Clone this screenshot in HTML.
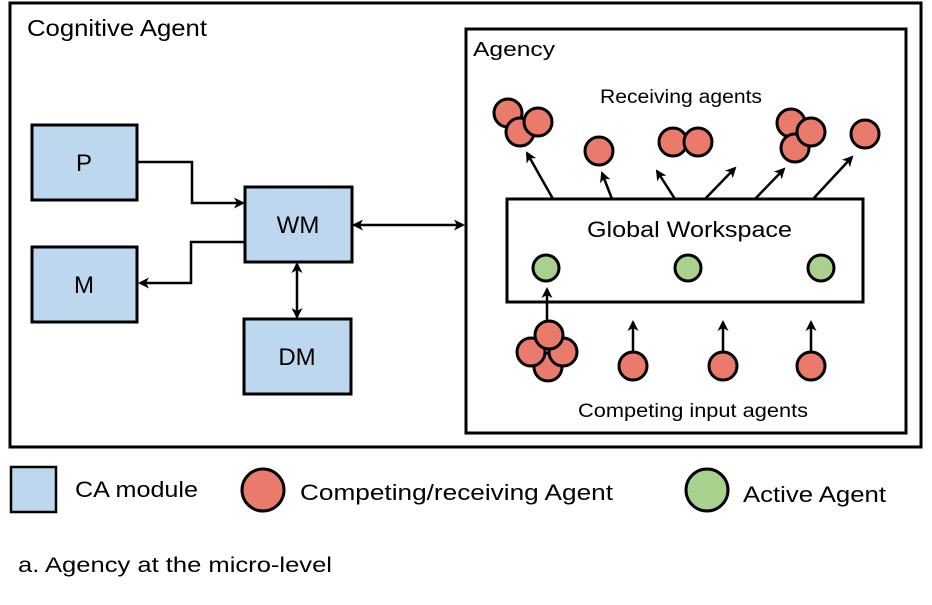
<!DOCTYPE html>
<html><head><style>
body{margin:0;background:#fff;}
svg text{font-family:"Liberation Sans",sans-serif;fill:#000;}
</style></head><body>
<svg width="932" height="600" viewBox="0 0 932 600" xmlns="http://www.w3.org/2000/svg">
<defs>
<marker id="a" markerWidth="11" markerHeight="11" refX="9" refY="5.5" orient="auto-start-reverse" markerUnits="userSpaceOnUse"><path d="M0,0 L11,5.5 L0,11 L3,5.5 Z" fill="#000"/></marker>
</defs>
<rect x="10" y="3" width="911" height="444" fill="none" stroke="#000" stroke-width="3"/>
<text x="27" y="36" font-size="23" textLength="180" lengthAdjust="spacingAndGlyphs">Cognitive Agent</text>
<rect x="466" y="29" width="440" height="404" fill="none" stroke="#000" stroke-width="3"/>
<text x="473" y="56" font-size="20" textLength="82" lengthAdjust="spacingAndGlyphs">Agency</text>
<g fill="#bdd7ee" stroke="#000" stroke-width="3">
<rect x="32" y="125" width="105" height="75"/>
<rect x="32" y="247" width="105" height="75"/>
<rect x="245" y="187" width="107" height="75"/>
<rect x="244" y="319" width="107" height="75"/>
</g>
<g font-size="24" text-anchor="middle">
<text x="84" y="171">P</text>
<text x="84" y="293">M</text>
<text x="298" y="233">WM</text>
<text x="297" y="365">DM</text>
</g>
<g fill="none" stroke="#000" stroke-width="2.5">
<polyline points="137,162 192,162 192,203 243,203" marker-end="url(#a)"/>
<polyline points="245,242 191,242 191,283 140,283" marker-end="url(#a)"/>
<line x1="297" y1="264" x2="297" y2="317" marker-start="url(#a)" marker-end="url(#a)"/>
<line x1="354" y1="225" x2="463" y2="225" marker-start="url(#a)" marker-end="url(#a)"/>
</g>
<rect x="507" y="199" width="356" height="103" fill="none" stroke="#000" stroke-width="3"/>
<text x="587" y="237" font-size="22" textLength="205" lengthAdjust="spacingAndGlyphs">Global Workspace</text>
<text x="600" y="103" font-size="19" textLength="162" lengthAdjust="spacingAndGlyphs">Receiving agents</text>
<text x="578" y="417" font-size="19" textLength="230" lengthAdjust="spacingAndGlyphs">Competing input agents</text>
<g fill="none" stroke="#000" stroke-width="2.5">
<line x1="553" y1="199" x2="527" y2="153" marker-end="url(#a)"/>
<line x1="612" y1="199" x2="602" y2="173" marker-end="url(#a)"/>
<line x1="675" y1="199" x2="657" y2="171" marker-end="url(#a)"/>
<line x1="705" y1="199" x2="735" y2="168" marker-end="url(#a)"/>
<line x1="755" y1="199" x2="784" y2="169" marker-end="url(#a)"/>
<line x1="813" y1="199" x2="852" y2="157" marker-end="url(#a)"/>
<line x1="547" y1="322" x2="547" y2="289" marker-end="url(#a)"/>
<line x1="633" y1="352" x2="633" y2="322" marker-end="url(#a)"/>
<line x1="723" y1="352" x2="723" y2="322" marker-end="url(#a)"/>
<line x1="811" y1="352" x2="811" y2="322" marker-end="url(#a)"/>
</g>
<g fill="#ea7b6c" stroke="#000" stroke-width="3">
<circle cx="508" cy="113" r="14"/>
<circle cx="520" cy="132" r="14"/>
<circle cx="538" cy="122" r="14"/>
<circle cx="599" cy="151" r="14"/>
<circle cx="673" cy="142" r="14"/>
<circle cx="698" cy="142" r="14"/>
<circle cx="791" cy="123" r="14"/>
<circle cx="795" cy="148" r="14"/>
<circle cx="811" cy="132" r="14"/>
<circle cx="865" cy="134" r="14"/>
<circle cx="548" cy="367" r="14"/>
<circle cx="531" cy="352" r="14"/>
<circle cx="563" cy="352" r="14"/>
<circle cx="549" cy="335" r="14"/>
<circle cx="633" cy="366" r="14"/>
<circle cx="723" cy="366" r="14"/>
<circle cx="811" cy="366" r="14"/>
</g>
<g fill="#a9d18e" stroke="#000" stroke-width="3">
<circle cx="546" cy="268" r="13"/>
<circle cx="688" cy="268" r="13"/>
<circle cx="821" cy="268" r="13"/>
</g>
<rect x="11" y="467" width="45" height="45" fill="#bdd7ee" stroke="#000" stroke-width="2.5"/>
<text x="75" y="497" font-size="22" textLength="123" lengthAdjust="spacingAndGlyphs">CA module</text>
<circle cx="263" cy="490" r="21" fill="#ea7b6c" stroke="#000" stroke-width="3"/>
<text x="300" y="500" font-size="22" textLength="313" lengthAdjust="spacingAndGlyphs">Competing/receiving Agent</text>
<circle cx="707" cy="490" r="21" fill="#a9d18e" stroke="#000" stroke-width="3"/>
<text x="743" y="502" font-size="22" textLength="143" lengthAdjust="spacingAndGlyphs">Active Agent</text>
<text x="18" y="572" font-size="21" textLength="314" lengthAdjust="spacingAndGlyphs">a. Agency at the micro-level</text>
</svg>
</body></html>
